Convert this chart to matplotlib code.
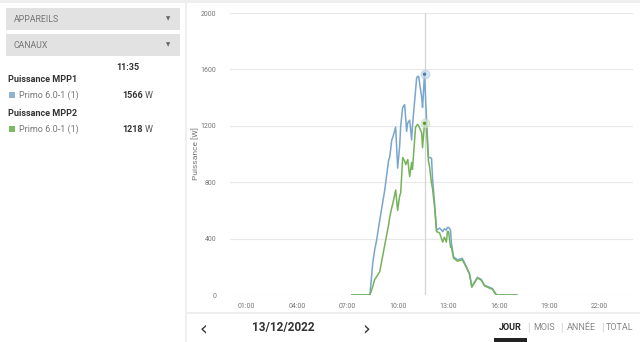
import matplotlib
matplotlib.use("Agg")
import matplotlib.pyplot as plt
from matplotlib.patches import Rectangle
import numpy as np

plt.rcParams['font.family'] = ['Roboto', 'DejaVu Sans']

# production du 13/12/2022, deux trackers MPP
heures = ["07:15", "08:20", "08:30", "08:37", "08:44", "08:55", "09:13", "09:27",
          "09:31", "09:38", "09:42", "09:52", "09:59", "10:06", "10:10", "10:17",
          "10:24", "10:28", "10:31", "10:35", "10:42", "10:49", "10:52", "11:03",
          "11:07", "11:10", "11:14", "11:25", "11:28", "11:35", "11:42", "11:49",
          "11:53", "12:00", "12:04", "12:11", "12:18", "12:29", "12:40", "12:46",
          "12:53", "12:57", "13:01", "13:08", "13:11", "13:19", "13:33", "13:50",
          "14:05", "14:16", "14:24", "14:44", "14:58", "15:09", "15:38", "15:52",
          "17:05"]
mpp1 = [0, 0, 225, 320, 390, 530, 745, 960,
        980, 1100, 1120, 1190, 900, 1050, 1200, 1330,
        1350, 1250, 1160, 1220, 1240, 1100, 1200, 1450,
        1540, 1550, 1550, 1400, 1330, 1566, 1260, 980,
        975, 970, 820, 650, 460, 475, 450, 470,
        460, 480, 480, 460, 370, 270, 250, 260,
        200, 150, 60, 125, 110, 70, 45, 0,
        0]
mpp2 = [0, 0, 60, 110, 130, 165, 355, 500,
        555, 620, 650, 745, 600, 700, 725, 975,
        950, 925, 940, 960, 840, 940, 890, 1190,
        1200, 1210, 1200, 1150, 1045, 1218, 1190, 950,
        910, 795, 750, 625, 450, 440, 375, 410,
        375, 450, 450, 340, 340, 260, 240, 250,
        195, 145, 55, 120, 105, 65, 40, 0,
        0]
curseur = "11:35"
xticks = ["01:00", "04:00", "07:00", "10:00", "13:00", "16:00", "19:00", "22:00"]
yticks = [0, 400, 800, 1200, 1600, 2000]
onglets = ["JOUR", "MOIS", "ANNÉE", "TOTAL"]


def en_heures(s):
    h, m = s.split(":")
    return int(h) + int(m) / 60


t = np.array([en_heures(h) for h in heures])
tc = en_heures(curseur)
i_c = heures.index(curseur)

W, H = 640, 342
fig = plt.figure(figsize=(6.4, 3.42), dpi=100)
fig.patch.set_facecolor("white")


def px(x, y):
    return x / W, 1 - y / H


def rect(x0, y0, x1, y1, **kw):
    fx, fy = px(x0, y1)
    fig.patches.append(Rectangle((fx, fy), (x1 - x0) / W, (y1 - y0) / H,
                                 transform=fig.transFigure, **kw))


# cadre général
rect(0, 0, 640, 3, color="#eeeeee", lw=0)
rect(185, 0, 187, 342, color="#eeeeee", lw=0)
rect(187, 312, 640, 314, color="#eeeeee", lw=0)

# menus déroulants
for y0, txt in [(8, "APPAREILS"), (34, "CANAUX")]:
    rect(6, y0, 180, y0 + 22, color="#e2e2e2", lw=0)
    fig.text(*px(14, y0 + 11), txt, fontsize=6.3, color="#777777", va="center")
    fig.text(*px(168, y0 + 11), "▼", fontsize=4, color="#666666", va="center",
             ha="center", family="DejaVu Sans")

# valeurs au curseur
fig.text(*px(128, 67), curseur, fontsize=6.5, weight="bold", color="#333333",
         ha="center", va="center")
bleu = "#78a6cc"
vert = "#75b35a"
for y0, nom, val, c in [(80, "Puissance MPP1", mpp1[i_c], "#8fb3d1"),
                        (114, "Puissance MPP2", mpp2[i_c], "#7dba62")]:
    fig.text(*px(8, y0), nom, fontsize=6.5, weight="bold", color="#333333", va="center")
    rect(9, y0 + 12, 15, y0 + 18, color=c, lw=0)
    fig.text(*px(19, y0 + 15), "Primo 6.0-1 (1)", fontsize=6.5, color="#777777", va="center")
    fig.text(*px(122, y0 + 15), f"{val}", fontsize=6.5, weight="bold", color="#333333",
             va="center")
    fig.text(*px(145, y0 + 15), "W", fontsize=6.5, color="#555555", va="center")

# graphique
x0, y0 = px(230, 295)
x1, y1 = px(633, 13)
ax = fig.add_axes([x0, y0, x1 - x0, y1 - y0])
ax.set_xlim(0, 24)
ax.set_ylim(0, 2000)
for s in ax.spines.values():
    s.set_visible(False)
ax.set_yticks(yticks)
ax.set_xticks([en_heures(h) for h in xticks])
ax.set_xticklabels(xticks)
ax.tick_params(length=0, labelsize=5, labelcolor="#777777")
ax.tick_params(axis="y", pad=10)
ax.tick_params(axis="x", pad=6)
ax.grid(axis="y", color="#e8e8e8", lw=0.8)
ax.set_axisbelow(True)
ax.set_ylabel("Puissance [W]", fontsize=6, color="#777777")
ax.yaxis.set_label_coords(-0.077, 0.5)

ax.axvline(tc, color="#d5d5d5", lw=0.9, zorder=1)
ax.plot(t, mpp1, color=bleu, lw=1.1, zorder=3)
ax.plot(t, mpp2, color=vert, lw=1.1, zorder=4)
ax.scatter([tc], [mpp1[i_c]], s=40, color="#c6daec", alpha=0.7, zorder=5, lw=0.6,
           edgecolor="#b0c9df")
ax.scatter([tc], [mpp2[i_c]], s=40, color="#d6e9cb", alpha=0.7, zorder=5, lw=0.6,
           edgecolor="#c0dbb0")
ax.scatter([tc, tc], [mpp1[i_c], mpp2[i_c]], s=2, color=["#4b7ea8", "#5a9a3c"], zorder=6)

# navigation
fig.text(*px(203, 329), "‹", fontsize=14, color="#333333", ha="center", va="center",
         family="DejaVu Sans")
fig.text(*px(283, 328), "13/12/2022", fontsize=8.5, weight="bold", color="#333333",
         ha="center", va="center")
fig.text(*px(366, 329), "›", fontsize=14, color="#333333", ha="center", va="center",
         family="DejaVu Sans")
pos = [510, 544, 581, 620]
for k, (o, x) in enumerate(zip(onglets, pos)):
    fig.text(*px(x, 328), o, fontsize=6.5, ha="center", va="center",
             weight="bold" if k == 0 else "normal",
             color="#222222" if k == 0 else "#888888")
for x in [528, 561, 602]:
    fig.text(*px(x, 328), "|", fontsize=7, ha="center", va="center", color="#cccccc")
rect(494, 338, 527, 342, color="#222222", lw=0)

fig.savefig("out.png", dpi=100)
